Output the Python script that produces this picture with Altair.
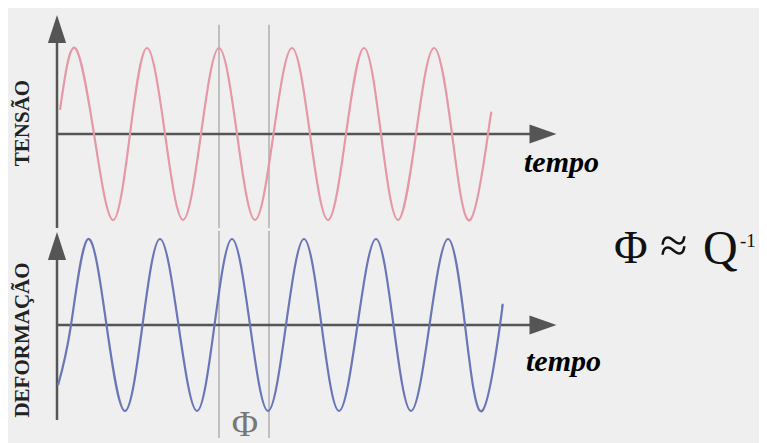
import altair as alt
import pandas as pd

# ---- data (time in arbitrary units, 0 = vertical axis) ----
tensao_t = [2, 17, 36, 55, 72, 89, 107, 125, 143, 161, 179, 197, 215.5, 234, 252,
            270, 288, 306, 323, 340, 358, 376, 394, 412, 430, 433]
tensao_v = [0.28, 1, 0, -1, 0, 1, 0, -1, 0, 1, 0, -1, 0, 1, 0,
            -1, 0, 1, 0, -1, 0, 1, 0, -1, 0, 0.22]

deform_t = [0, 13, 30, 48.5, 67, 84.5, 102, 120.5, 139, 156.5, 174, 192, 210, 228,
            246, 263.5, 281, 299.5, 318, 335.5, 353, 371.5, 390, 407, 424, 442, 444]
deform_v = [-0.7, 0, 1, 0, -1, 0, 1, 0, -1, 0, 1, 0, -1, 0,
            1, 0, -1, 0, 1, 0, -1, 0, 1, 0, -1, 0, 0.2]

phase_marks_t = [161, 211]          # the two thin vertical guide lines
axis_x_t = [-1]                     # time origin (vertical axis)
axis_end_t = [472]                  # end of time axis shaft
arrow_t = [485]                     # time arrow head

top_label = ["TENSÃO"]
bottom_label = ["DEFORMAÇÃO"]
time_label = ["tempo"]
phi_label = ["Φ"]
formula_parts = ["Φ", "≈", "Q", "-1"]

# ---- styling ----
BG = "#efefef"
AXC = "#555555"
RED = "#e598a6"
BLUE = "#6a76b6"
GUIDE = "#8f8f8f"
SERIF = "Liberation Serif"
W = 751
TOP_H = 220
BOT_H = 207
TOP_DOM = [-1.093, 1.465]
BOT_DOM = [-1.314, 1.093]

xscale = alt.Scale(domain=[-50, 701], nice=False, zero=False)
UP = "M0,-1L0.65,1L-0.65,1Z"
RIGHT = "M1,0L-1,-0.7L-1,0.7Z"


def panel(line_t, line_v, color, dom, h, guide_top, vaxis_bottom, vaxis_top, label,
          label_pos, tempo_pos, extra=None):
    ys = alt.Scale(domain=dom, nice=False, zero=False)
    guides = alt.Chart(pd.DataFrame({"t": phase_marks_t, "y1": [guide_top] * 2,
                                     "y2": [dom[0]] * 2})).mark_rule(
        color=GUIDE, strokeWidth=1).encode(
        x=alt.X("t:Q", scale=xscale, axis=None),
        y=alt.Y("y1:Q", scale=ys, axis=None), y2="y2:Q")
    vaxis = alt.Chart(pd.DataFrame({"t": axis_x_t, "y1": [vaxis_bottom],
                                    "y2": [vaxis_top]})).mark_rule(
        color=AXC, strokeWidth=2.5).encode(
        x=alt.X("t:Q", scale=xscale, axis=None),
        y=alt.Y("y1:Q", scale=ys, axis=None), y2="y2:Q")
    vhead = alt.Chart(pd.DataFrame({"t": axis_x_t, "y": [vaxis_top]})).mark_point(
        shape=UP, size=784, filled=True, color=AXC, opacity=1).encode(
        x=alt.X("t:Q", scale=xscale, axis=None),
        y=alt.Y("y:Q", scale=ys, axis=None))
    haxis = alt.Chart(pd.DataFrame({"t": axis_x_t, "t2": axis_end_t, "y": [0]})).mark_rule(
        color=AXC, strokeWidth=2.5).encode(
        x=alt.X("t:Q", scale=xscale, axis=None), x2="t2:Q",
        y=alt.Y("y:Q", scale=ys, axis=None))
    hhead = alt.Chart(pd.DataFrame({"t": arrow_t, "y": [0]})).mark_point(
        shape=RIGHT, size=729, filled=True, color=AXC, opacity=1).encode(
        x=alt.X("t:Q", scale=xscale, axis=None),
        y=alt.Y("y:Q", scale=ys, axis=None))
    curve = alt.Chart(pd.DataFrame({"t": line_t, "v": line_v})).mark_line(
        color=color, strokeWidth=2.2, interpolate="natural").encode(
        x=alt.X("t:Q", scale=xscale, axis=None),
        y=alt.Y("v:Q", scale=ys, axis=None))
    ylab = alt.Chart(pd.DataFrame({"s": label})).mark_text(
        font=SERIF, fontSize=21, fontWeight="bold", color="#222222", angle=270,
        align="center", baseline="middle").encode(
        text="s:N", x=alt.value(label_pos[0]), y=alt.value(label_pos[1]))
    tlab = alt.Chart(pd.DataFrame({"s": time_label})).mark_text(
        font=SERIF, fontSize=30, fontWeight="bold", fontStyle="italic", color="#000000",
        align="left", baseline="alphabetic").encode(
        text="s:N", x=alt.value(tempo_pos[0]), y=alt.value(tempo_pos[1]))
    layers = [guides, vaxis, haxis, curve, vhead, hhead, ylab, tlab]
    if extra:
        layers += extra
    return alt.layer(*layers).properties(width=W, height=h)


top = panel(tensao_t, tensao_v, RED, TOP_DOM, TOP_H, 1.27, TOP_DOM[0], 1.221,
            top_label, (15, 115), (516, 164))

phi = alt.Chart(pd.DataFrame({"s": phi_label})).mark_text(
    font=SERIF, fontSize=36, color="#777777", align="center", baseline="alphabetic").encode(
    text="s:N", x=alt.value(237), y=alt.value(205))

fx = [606, 652, 695, 732]
fy = [32, 31, 33, 16]
fs = [46, 50, 48, 19]
formula = []
for s, x, y, size in zip(formula_parts, fx, fy, fs):
    formula.append(alt.Chart(pd.DataFrame({"s": [s]})).mark_text(
        font=SERIF, fontSize=size, color="#111111", align="left", clip=True,
        baseline="alphabetic").encode(text="s:N", x=alt.value(x), y=alt.value(y)))

bottom = panel(deform_t, deform_v, BLUE, BOT_DOM, BOT_H, BOT_DOM[1], -1.105, 0.919,
               bottom_label, (15, 109), (518, 140), extra=[phi] + formula)

chart = alt.vconcat(top, bottom, spacing=0).properties(
    padding=0, background=BG).configure_view(stroke=None)

chart.save("out.html", embed_options={"renderer": "svg", "actions": False})
